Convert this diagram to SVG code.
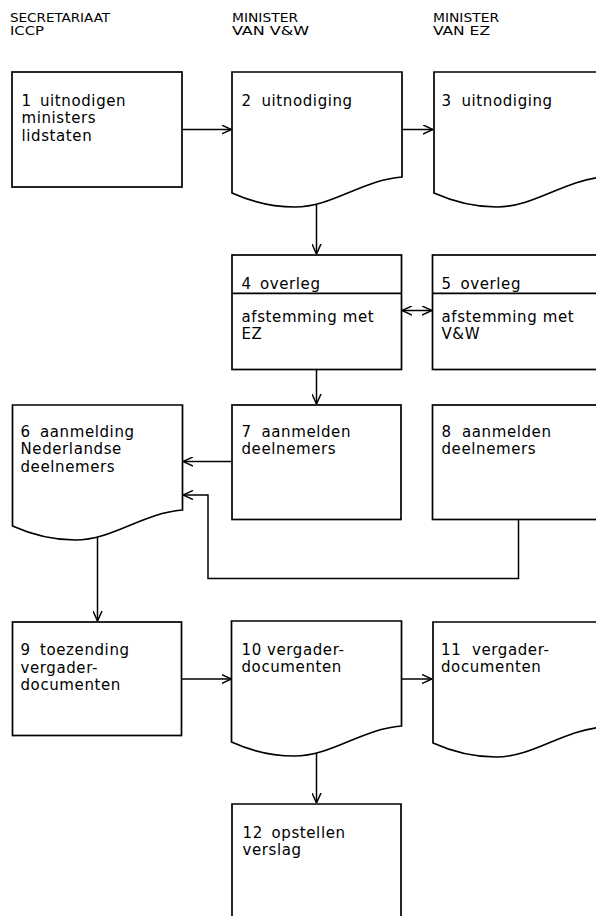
<svg xmlns="http://www.w3.org/2000/svg" xmlns:xlink="http://www.w3.org/1999/xlink" width="596" height="916" viewBox="0 0 596 916">
<style>
.box{fill:#fff;stroke:#000;stroke-width:1.7}
.ln{fill:none;stroke:#000;stroke-width:1.7}
.t{font-family:"DejaVu Sans","Liberation Sans",sans-serif;font-size:15px;letter-spacing:0.6px;fill:#000}
.h{font-family:"DejaVu Sans Condensed","Liberation Sans Narrow","Liberation Sans",sans-serif;font-size:11.5px;fill:#000}
.c{fill:none;stroke:#000;stroke-width:1.5}
</style>
<defs>
<path id="doc" d="M0,0 H170 V105 C130,108 100,135 63,135 C42,135 20,130 0,121 Z"/>
<marker id="ah" viewBox="0 0 10 10" refX="10" refY="5" markerWidth="10" markerHeight="10" markerUnits="userSpaceOnUse" orient="auto-start-reverse">
<path d="M0,0.5 L10,5 L0,9.5" fill="none" stroke="#000" stroke-width="1.5"/>
</marker>
</defs>
<rect width="596" height="916" fill="#fff"/>
<g id="headers">
<text class="h"><tspan x="10" y="22" textLength="100" lengthAdjust="spacingAndGlyphs">SECRETARIAAT</tspan><tspan x="10" y="35.4" textLength="34" lengthAdjust="spacingAndGlyphs">ICCP</tspan></text>
<text class="h"><tspan x="232" y="22" textLength="66" lengthAdjust="spacingAndGlyphs">MINISTER</tspan><tspan x="232" y="35.4" textLength="77" lengthAdjust="spacingAndGlyphs">VAN V&amp;W</tspan></text>
<text class="h"><tspan x="433" y="22" textLength="66" lengthAdjust="spacingAndGlyphs">MINISTER</tspan><tspan x="433" y="35.4" textLength="57" lengthAdjust="spacingAndGlyphs">VAN EZ</tspan></text>
</g>
<g id="connectors">
<path class="c" d="M182,129.5 H231.5" marker-end="url(#ah)"/>
<path class="c" d="M402,129.5 H433" marker-end="url(#ah)"/>
<path class="c" d="M316.5,202 V254" marker-end="url(#ah)"/>
<path class="c" d="M402,310.5 H432" marker-start="url(#ah)" marker-end="url(#ah)"/>
<path class="c" d="M316.5,369.5 V404" marker-end="url(#ah)"/>
<path class="c" d="M232,461.5 H183" marker-end="url(#ah)"/>
<path class="c" d="M518.5,519.5 V578.5 H208 V495 H183" marker-end="url(#ah)"/>
<path class="c" d="M97.5,536 V621" marker-end="url(#ah)"/>
<path class="c" d="M182,679 H231.5" marker-end="url(#ah)"/>
<path class="c" d="M401,679 H432" marker-end="url(#ah)"/>
<path class="c" d="M316.5,751 V803" marker-end="url(#ah)"/>
</g>
<g id="node1">
<rect class="box" x="12" y="72" width="170" height="115"/>
<text class="t"><tspan x="21.5" y="105.5">1</tspan><tspan x="40" y="105.5">uitnodigen</tspan><tspan x="21.5" y="123">ministers</tspan><tspan x="21.5" y="140.5">lidstaten</tspan></text>
</g>
<g id="node2">
<use xlink:href="#doc" href="#doc" class="box" transform="translate(232,72)"/>
<text class="t"><tspan x="241.5" y="105.5">2</tspan><tspan x="261.5" y="105.5">uitnodiging</tspan></text>
</g>
<g id="node3">
<use xlink:href="#doc" href="#doc" class="box" transform="translate(434,72)"/>
<text class="t"><tspan x="441.5" y="105.5">3</tspan><tspan x="461.5" y="105.5">uitnodiging</tspan></text>
</g>
<g id="node4">
<rect class="box" x="232" y="255" width="169.5" height="114.5"/>
<line class="ln" x1="232" y1="293.3" x2="401.5" y2="293.3"/>
<text class="t"><tspan x="241.5" y="288.5">4</tspan><tspan x="260" y="288.5">overleg</tspan></text>
<text class="t"><tspan x="241.5" y="321.5">afstemming met</tspan><tspan x="241.5" y="339">EZ</tspan></text>
</g>
<g id="node5">
<rect class="box" x="432.5" y="255" width="200" height="114.5"/>
<line class="ln" x1="432.5" y1="293.3" x2="600" y2="293.3"/>
<text class="t"><tspan x="441.5" y="288.5">5</tspan><tspan x="460.5" y="288.5">overleg</tspan></text>
<text class="t"><tspan x="441.5" y="321.5">afstemming met</tspan><tspan x="441.5" y="339">V&amp;W</tspan></text>
</g>
<g id="node6">
<use xlink:href="#doc" href="#doc" class="box" transform="translate(12.5,405)"/>
<text class="t"><tspan x="20.5" y="436.5">6</tspan><tspan x="40" y="436.5">aanmelding</tspan><tspan x="20.5" y="454">Nederlandse</tspan><tspan x="20.5" y="471.5">deelnemers</tspan></text>
</g>
<g id="node7">
<rect class="box" x="232" y="405" width="169" height="114.5"/>
<text class="t"><tspan x="241.5" y="436.5">7</tspan><tspan x="261.5" y="436.5">aanmelden</tspan><tspan x="241.5" y="454">deelnemers</tspan></text>
</g>
<g id="node8">
<rect class="box" x="432.5" y="405" width="200" height="114.5"/>
<text class="t"><tspan x="441.5" y="436.5">8</tspan><tspan x="462" y="436.5">aanmelden</tspan><tspan x="441.5" y="454">deelnemers</tspan></text>
</g>
<g id="node9">
<rect class="box" x="12.5" y="622" width="169" height="113.5"/>
<text class="t"><tspan x="20.5" y="655">9</tspan><tspan x="40" y="655">toezending</tspan><tspan x="20.5" y="672.5">vergader-</tspan><tspan x="20.5" y="690">documenten</tspan></text>
</g>
<g id="node10">
<use xlink:href="#doc" href="#doc" class="box" transform="translate(231.5,621)"/>
<text class="t"><tspan x="241.5" y="654.5">10</tspan><tspan x="267" y="654.5">vergader-</tspan><tspan x="241.5" y="672">documenten</tspan></text>
</g>
<g id="node11">
<use xlink:href="#doc" href="#doc" class="box" transform="translate(433,622)"/>
<text class="t"><tspan x="441" y="654.5">11</tspan><tspan x="472" y="654.5">vergader-</tspan><tspan x="441" y="672">documenten</tspan></text>
</g>
<g id="node12">
<path class="box" d="M232,920 V804 H401 V920"/>
<text class="t"><tspan x="242.5" y="837.5">12</tspan><tspan x="271.5" y="837.5">opstellen</tspan><tspan x="242.5" y="855">verslag</tspan></text>
</g>
</svg>
